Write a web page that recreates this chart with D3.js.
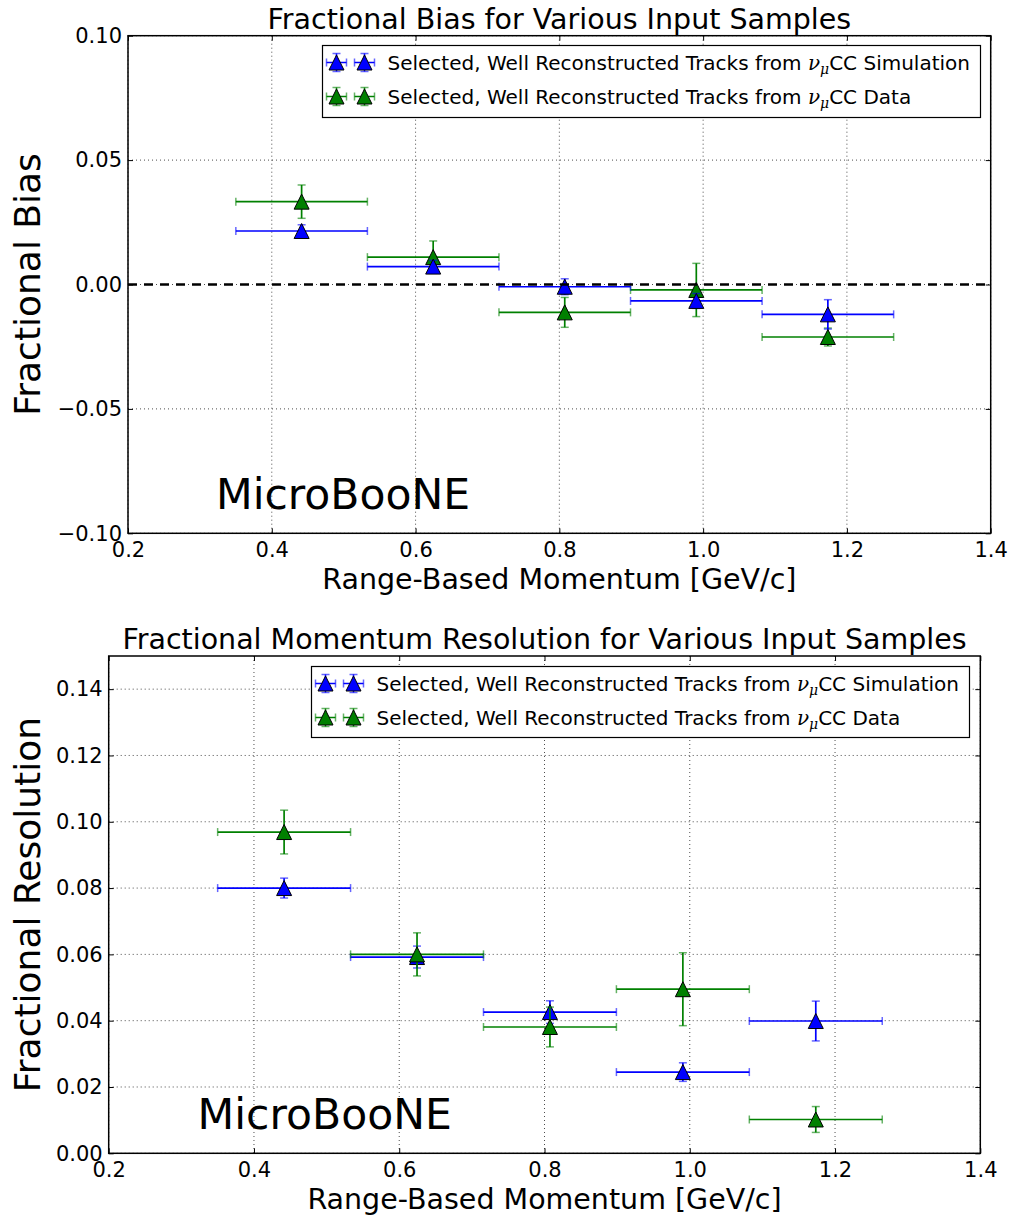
<!DOCTYPE html>
<html>
<head>
<meta charset="utf-8">
<script src="https://cdn.jsdelivr.net/npm/d3@7"></script>
<style>
  html, body { margin: 0; padding: 0; background: #fff; }
  svg { display: block; font-family: "DejaVu Sans", sans-serif; }
</style>
</head>
<body>
<svg id="chart" width="1012" height="1220"></svg>
<script>
// ---------------- DATA ----------------
const xTicks = [0.2, 0.4, 0.6, 0.8, 1.0, 1.2, 1.4];
const biasTicks = [-0.10, -0.05, 0.00, 0.05, 0.10];
const resTicks = [0.00, 0.02, 0.04, 0.06, 0.08, 0.10, 0.12, 0.14];

// momentum bins (centres and half widths, GeV/c)
const xCenters = [0.4415, 0.6245, 0.8075, 0.9905, 1.1735];
const xHalfWidths = [0.0915, 0.0915, 0.0915, 0.0915, 0.0915];

// Fractional bias
const biasSim = [0.0215, 0.0072, -0.0009, -0.0066, -0.0120];
const biasSimErr = [0.0025, 0.0025, 0.0032, 0.0030, 0.0059];
const biasData = [0.0333, 0.0110, -0.0112, -0.0022, -0.0211];
const biasDataErr = [0.0067, 0.0065, 0.0060, 0.0107, 0.0036];

// Fractional resolution
const resSim = [0.0800, 0.0592, 0.0426, 0.0245, 0.0399];
const resSimErr = [0.0030, 0.0033, 0.0034, 0.0028, 0.0060];
const resData = [0.0969, 0.0600, 0.0381, 0.0495, 0.0102];
const resDataErr = [0.0066, 0.0065, 0.0060, 0.0110, 0.0039];

const seriesNames = ["Simulation", "Data"];
const seriesColors = ["#0000ff", "#008000"];

// ---------------- DRAW ----------------
const svg = d3.select("#chart");
const FONT = "'DejaVu Sans', sans-serif";

function drawPanel(cfg) {
  const g = svg.append("g");
  const x = d3.scaleLinear().domain([0.2, 1.4]).range([cfg.left, cfg.right]);
  const y = d3.scaleLinear().domain(cfg.yDomain).range([cfg.bottom, cfg.top]);

  // grid
  const grid = g.append("g").attr("stroke", "#000").attr("stroke-opacity", 0.7)
    .attr("stroke-width", 1).attr("stroke-dasharray", "1,3");
  grid.selectAll("line.gx").data(xTicks).join("line")
    .attr("x1", d => x(d)).attr("x2", d => x(d))
    .attr("y1", cfg.top).attr("y2", cfg.bottom);
  grid.selectAll("line.gy").data(cfg.yTicks).join("line")
    .attr("x1", cfg.left).attr("x2", cfg.right)
    .attr("y1", d => y(d)).attr("y2", d => y(d));

  // axes with inward ticks
  const fmtX = d3.format(".1f"), fmtY = d3.format(".2f");
  const ax = [
    [d3.axisBottom(x).tickValues(xTicks).tickFormat(fmtX), `translate(0,${cfg.bottom})`, true],
    [d3.axisTop(x).tickValues(xTicks).tickFormat(""), `translate(0,${cfg.top})`, false],
    [d3.axisLeft(y).tickValues(cfg.yTicks).tickFormat(fmtY), `translate(${cfg.left},0)`, true],
    [d3.axisRight(y).tickValues(cfg.yTicks).tickFormat(""), `translate(${cfg.right},0)`, false]
  ];
  ax.forEach(([axis, tr, labels], i) => {
    const a = g.append("g").attr("transform", tr)
      .call(axis.tickSizeInner(-5).tickSizeOuter(0).tickPadding(i === 0 ? 8.5 : 6));
    a.select(".domain").remove();
    a.selectAll("line").attr("stroke", "#000").attr("stroke-width", 1);
    a.selectAll("text").attr("font-family", FONT).attr("font-size", 21).attr("fill", "#000");
  });

  // frame
  g.append("rect").attr("x", cfg.left).attr("y", cfg.top)
    .attr("width", cfg.right - cfg.left).attr("height", cfg.bottom - cfg.top)
    .attr("fill", "none").attr("stroke", "#000").attr("stroke-width", 1.5);

  // series
  const tri = d3.symbol().type(d3.symbolTriangle);
  function drawSeries(vals, errs, color) {
    const s = g.append("g");
    const pts = vals.map((v, i) => ({ c: xCenters[i], hw: xHalfWidths[i], v, e: errs[i] }));
    pts.forEach(p => {
      const cx = x(p.c), cy = y(p.v);
      const x0 = x(p.c - p.hw), x1 = x(p.c + p.hw);
      const y0 = y(p.v - p.e), y1 = y(p.v + p.e);
      s.append("line").attr("x1", x0).attr("x2", x1).attr("y1", cy).attr("y2", cy)
        .attr("stroke", color).attr("stroke-width", 1.7);
      s.append("line").attr("x1", cx).attr("x2", cx).attr("y1", y0).attr("y2", y1)
        .attr("stroke", color).attr("stroke-width", 1.7);
      const caps = s.append("g").attr("stroke", color).attr("stroke-opacity", 0.6).attr("stroke-width", 1.5);
      [x0, x1].forEach(xx => caps.append("line").attr("x1", xx).attr("x2", xx).attr("y1", cy - 4).attr("y2", cy + 4));
      [y0, y1].forEach(yy => caps.append("line").attr("x1", cx - 4).attr("x2", cx + 4).attr("y1", yy).attr("y2", yy));
      s.append("path").attr("d", "M0,-7.5L7.5,7.5L-7.5,7.5Z")
        .attr("transform", `translate(${cx},${cy})`)
        .attr("fill", color).attr("stroke", "#000").attr("stroke-width", 1);
    });
  }
  cfg.order.forEach(k => drawSeries(cfg.series[k].vals, cfg.series[k].errs, seriesColors[k]));

  if (cfg.zeroLine) {
    g.append("line").attr("x1", cfg.left).attr("x2", cfg.right)
      .attr("y1", y(0)).attr("y2", y(0))
      .attr("stroke", "#000").attr("stroke-width", 2.5).attr("stroke-dasharray", "9,7");
  }

  // title
  g.append("text").attr("x", (cfg.left + cfg.right) / 2).attr("y", cfg.titleY)
    .attr("text-anchor", "middle").attr("font-family", FONT).attr("font-size", 28.5)
    .text(cfg.title);
  // x label
  g.append("text").attr("x", (cfg.left + cfg.right) / 2).attr("y", cfg.xLabelY)
    .attr("text-anchor", "middle").attr("font-family", FONT).attr("font-size", 28.5)
    .text("Range-Based Momentum [GeV/c]");
  // y label
  g.append("text").attr("transform", `translate(${cfg.yLabelX},${(cfg.top + cfg.bottom) / 2}) rotate(-90)`)
    .attr("text-anchor", "middle").attr("font-family", FONT).attr("font-size", 36)
    .text(cfg.yLabel);
  // MicroBooNE
  g.append("text").attr("x", cfg.left + 0.102 * (cfg.right - cfg.left))
    .attr("y", cfg.bottom - 0.048 * (cfg.bottom - cfg.top))
    .attr("font-family", FONT).attr("font-size", 42.5).text("MicroBooNE");

  // legend
  const lg = g.append("g");
  lg.append("rect").attr("x", cfg.legend.x).attr("y", cfg.legend.y)
    .attr("width", cfg.legend.w).attr("height", cfg.legend.h)
    .attr("fill", "#fff").attr("stroke", "#000").attr("stroke-width", 1.2);
  seriesNames.forEach((name, k) => {
    const ry = cfg.legend.y + 17 + k * 34;
    const color = seriesColors[k];
    [14, 42].forEach(dx => {
      const cx = cfg.legend.x + dx;
      lg.append("line").attr("x1", cx - 10).attr("x2", cx + 10).attr("y1", ry).attr("y2", ry)
        .attr("stroke", color).attr("stroke-width", 1.5);
      lg.append("line").attr("x1", cx).attr("x2", cx).attr("y1", ry - 9).attr("y2", ry + 9)
        .attr("stroke", color).attr("stroke-width", 1.5);
      const caps = lg.append("g").attr("stroke", color).attr("stroke-opacity", 0.6).attr("stroke-width", 1.5);
      [cx - 10, cx + 10].forEach(xx => caps.append("line").attr("x1", xx).attr("x2", xx).attr("y1", ry - 4).attr("y2", ry + 4));
      [ry - 9, ry + 9].forEach(yy => caps.append("line").attr("x1", cx - 4).attr("x2", cx + 4).attr("y1", yy).attr("y2", yy));
      lg.append("path").attr("d", "M0,-7.5L7.5,7.5L-7.5,7.5Z")
        .attr("transform", `translate(${cx},${ry})`)
        .attr("fill", color).attr("stroke", "#000").attr("stroke-width", 1);
    });
    const t = lg.append("text").attr("x", cfg.legend.x + 65).attr("y", ry + 7)
      .attr("font-family", FONT).attr("font-size", 20);
    t.append("tspan").text("Selected, Well Reconstructed Tracks from ");
    t.append("tspan").attr("font-family", "'DejaVu Serif', serif").attr("font-style", "italic").text("ν");
    t.append("tspan").attr("font-family", "'DejaVu Serif', serif").attr("font-style", "italic")
      .attr("font-size", 14).attr("dy", 4).text("μ");
    t.append("tspan").attr("dy", -4).text("CC " + name);
  });
}

drawPanel({
  left: 128, right: 990.7, top: 35.7, bottom: 533.3,
  yDomain: [-0.10, 0.10], yTicks: biasTicks,
  series: [{ vals: biasSim, errs: biasSimErr }, { vals: biasData, errs: biasDataErr }],
  order: [1, 0], zeroLine: true,
  title: "Fractional Bias for Various Input Samples", titleY: 29,
  xLabelY: 589, yLabel: "Fractional Bias", yLabelX: 40,
  legend: { x: 322.5, y: 45.5, w: 658, h: 72 }
});

drawPanel({
  left: 108.7, right: 980.3, top: 656, bottom: 1153.3,
  yDomain: [0, 0.15], yTicks: resTicks,
  series: [{ vals: resSim, errs: resSimErr }, { vals: resData, errs: resDataErr }],
  order: [0, 1], zeroLine: false,
  title: "Fractional Momentum Resolution for Various Input Samples", titleY: 649,
  xLabelY: 1209, yLabel: "Fractional Resolution", yLabelX: 40,
  legend: { x: 311.5, y: 666.5, w: 658, h: 71 }
});
</script>
</body>
</html>
